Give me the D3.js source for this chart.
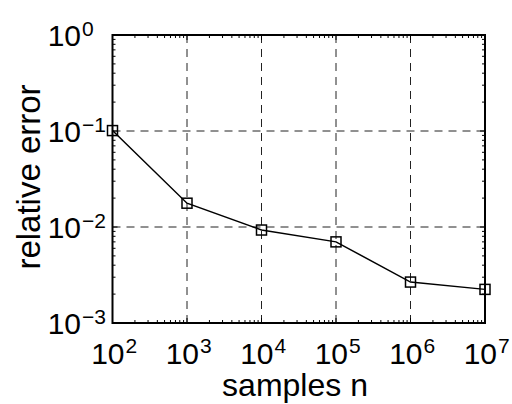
<!DOCTYPE html>
<html><head><meta charset="utf-8">
<script src="https://cdn.jsdelivr.net/npm/d3@7"></script>
<style>body{margin:0;background:#fff}svg{display:block}</style>
</head><body><svg id="c" width="512" height="404"></svg>
<script>
const samples = [1e2, 1e3, 1e4, 1e5, 1e6, 1e7];
const relError = [0.101, 0.0177, 0.0093, 0.0070, 0.00267, 0.00224];
const xTickExp = [2, 3, 4, 5, 6, 7];
const yTickExp = [-3, -2, -1, 0];

const svg = d3.select("#c");
const L = 112.5, R = 485, T = 35, B = 323;
const x = d3.scaleLog().domain([1e2, 1e7]).range([L, R]);
const y = d3.scaleLog().domain([1e-3, 1]).range([B, T]);
const font = "Liberation Sans, Arial, Helvetica, sans-serif";

// grid
const g = svg.append("g");
xTickExp.slice(1, -1).forEach(e => {
  g.append("line").attr("x1", x(10**e)).attr("x2", x(10**e)).attr("y1", T).attr("y2", B)
    .attr("stroke", "#222").attr("stroke-width", 1).attr("stroke-dasharray", "8,6");
});
yTickExp.slice(1, -1).forEach(e => {
  g.append("line").attr("y1", y(10**e)).attr("y2", y(10**e)).attr("x1", L).attr("x2", R)
    .attr("stroke", "#222").attr("stroke-width", 1).attr("stroke-dasharray", "8,6");
});

// minor/major ticks inside on all four sides
const xt = [];
for (let e = 2; e < 7; e++) for (let m = 1; m < 10; m++) xt.push([m * 10**e, m === 1]);
xt.push([1e7, true]);
xt.forEach(([v, major]) => {
  const len = major ? 5 : 3;
  svg.append("line").attr("x1", x(v)).attr("x2", x(v)).attr("y1", B).attr("y2", B - len).attr("stroke", "#000");
  svg.append("line").attr("x1", x(v)).attr("x2", x(v)).attr("y1", T).attr("y2", T + len).attr("stroke", "#000");
});
const yt = [];
for (let e = -3; e < 0; e++) for (let m = 1; m < 10; m++) yt.push([m * 10**e, m === 1]);
yt.push([1, true]);
yt.forEach(([v, major]) => {
  const len = major ? 5 : 3;
  svg.append("line").attr("y1", y(v)).attr("y2", y(v)).attr("x1", L).attr("x2", L + len).attr("stroke", "#000");
  svg.append("line").attr("y1", y(v)).attr("y2", y(v)).attr("x1", R).attr("x2", R - len).attr("stroke", "#000");
});

// frame
svg.append("rect").attr("x", L).attr("y", T).attr("width", R - L).attr("height", B - T)
  .attr("fill", "none").attr("stroke", "#000").attr("stroke-width", 2);

// line + markers
const data = samples.map((s, i) => [s, relError[i]]);
svg.append("path").datum(data)
  .attr("d", d3.line().x(d => x(d[0])).y(d => y(d[1])))
  .attr("fill", "none").attr("stroke", "#000").attr("stroke-width", 1.5);
svg.selectAll("rect.m").data(data).join("rect").attr("class", "m")
  .attr("x", d => x(d[0]) - 5).attr("y", d => y(d[1]) - 5).attr("width", 10).attr("height", 10)
  .attr("fill", "none").attr("stroke", "#000").attr("stroke-width", 1.5);

// tick labels
xTickExp.forEach(e => {
  const px = x(10**e);
  svg.append("text").attr("x", px + 12).attr("y", 364).attr("text-anchor", "end")
    .attr("font-family", font).attr("font-size", 30).attr("fill", "#000").text("10");
  svg.append("text").attr("x", px + 13).attr("y", 353).attr("text-anchor", "start")
    .attr("font-family", font).attr("font-size", 21).attr("fill", "#000").text(e);
});
yTickExp.forEach(e => {
  const py = y(10**e);
  svg.append("text").attr("x", 81).attr("y", py + 11).attr("text-anchor", "end")
    .attr("font-family", font).attr("font-size", 30).attr("fill", "#000").text("10");
  svg.append("text").attr("x", 82).attr("y", py + 1).attr("text-anchor", "start")
    .attr("font-family", font).attr("font-size", 21).attr("fill", "#000")
    .text(e < 0 ? "\u2212" + (-e) : e);
});

// axis titles
svg.append("text").attr("x", 295).attr("y", 396).attr("text-anchor", "middle")
  .attr("font-family", font).attr("font-size", 32).attr("fill", "#000").text("samples n");
svg.append("text").attr("transform", "translate(40,177) rotate(-90)").attr("text-anchor", "middle")
  .attr("font-family", font).attr("font-size", 33).attr("fill", "#000").text("relative error");
</script></body></html>
